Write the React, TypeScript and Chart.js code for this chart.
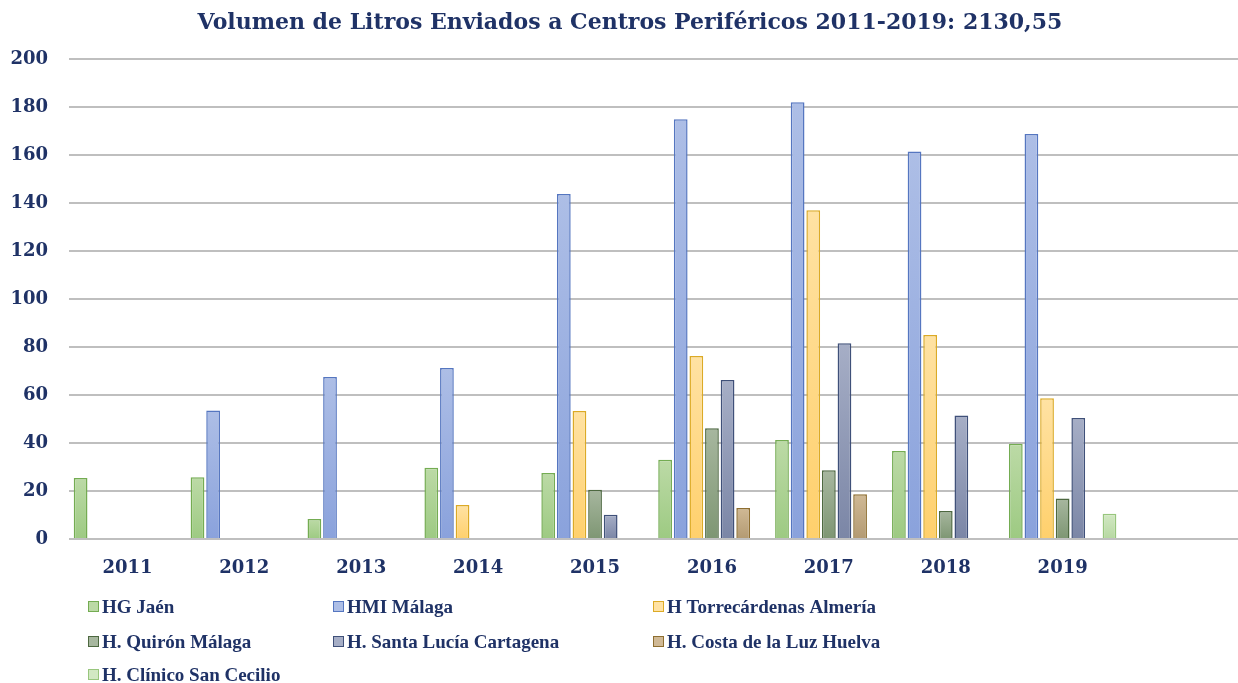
import React, { useEffect, useRef } from "react";
import { Chart, registerables } from "chart.js";

Chart.register(...registerables);

const TITLE = "Volumen de Litros Enviados a Centros Periféricos 2011-2019: 2130,55";
const years = ["2011", "2012", "2013", "2014", "2015", "2016", "2017", "2018", "2019", ""];
const seriesNames = [
  "HG Jaén",
  "HMI Málaga",
  "H Torrecárdenas Almería",
  "H. Quirón Málaga",
  "H. Santa Lucía Cartagena",
  "H. Costa de la Luz Huelva",
  "H. Clínico San Cecilio",
];
const hgJaen = [25.4, 25.7, 8.3, 29.7, 27.5, 33.0, 41.2, 36.7, 39.7, null];
const hmiMalaga = [null, 53.5, 67.5, 71.3, 143.7, 174.9, 182.0, 161.5, 168.7, null];
const torrecardenas = [null, null, null, 14.2, 53.3, 76.2, 137.0, 85.0, 58.6, null];
const quironMalaga = [null, null, null, null, 20.5, 46.1, 28.6, 11.7, 16.9, null];
const santaLucia = [null, null, null, null, 10.1, 66.2, 81.6, 51.5, 50.4, null];
const costaLuz = [null, null, null, null, null, 12.9, 18.6, null, null, null];
const sanCecilio = [null, null, null, null, null, null, null, null, 10.5, null];
const yTicks = [0, 20, 40, 60, 80, 100, 120, 140, 160, 180, 200];

const allSeries = [hgJaen, hmiMalaga, torrecardenas, quironMalaga, santaLucia, costaLuz, sanCecilio];
const palette = [
  { top: "#bcdaa6", bottom: "#9dca82", border: "#74ac52" },
  { top: "#adbee6", bottom: "#8aa2dc", border: "#5576c0" },
  { top: "#ffe2a3", bottom: "#ffd06c", border: "#dcaa26" },
  { top: "#a7b79f", bottom: "#7e9673", border: "#4d6840" },
  { top: "#a6aec6", bottom: "#7b86a6", border: "#3f5079" },
  { top: "#d0b995", bottom: "#b39a72", border: "#8e6e30" },
  { top: "#d2e8c3", bottom: "#b6d8a1", border: "#98c67d" },
];

const NAVY = "#1f3266";
const FONT = "'DejaVu Serif', serif";
const LEGEND_FONT = "'Liberation Serif', serif";

const legendPos = [
  [88, 607], [333, 607], [653, 607],
  [88, 642], [333, 642], [653, 642],
  [88, 675],
];

export default function App() {
  const ref = useRef<HTMLCanvasElement | null>(null);
  useEffect(() => {
    document.body.style.margin = "0";
    const canvas = ref.current;
    if (!canvas) return;
    const overlay = {
      id: "overlay",
      afterDraw(chart: any) {
        const c = chart.ctx;
        c.save();
        c.fillStyle = NAVY;
        c.font = `bold 22px ${FONT}`;
        c.textAlign = "center";
        c.textBaseline = "middle";
        c.fillText(TITLE, 630, 23);
        c.font = `bold 19px ${LEGEND_FONT}`;
        c.textAlign = "left";
        seriesNames.forEach((name, i) => {
          const [x, y] = legendPos[i];
          const p = palette[i];
          c.fillStyle = p.top;
          c.fillRect(x, y - 6, 11, 11);
          c.strokeStyle = p.border;
          c.lineWidth = 1;
          c.strokeRect(x + 0.5, y - 5.5, 10, 10);
          c.fillStyle = NAVY;
          c.fillText(name, x + 14, y + 1);
        });
        c.restore();
      },
    };
    const chart = new Chart(canvas, {
      type: "bar",
      data: {
        labels: years,
        datasets: allSeries.map((d, i) => ({
          label: seriesNames[i],
          data: d,
          borderColor: palette[i].border,
          borderWidth: 1.5,
          backgroundColor: (ctx: any) => {
            const ch = ctx.chart;
            if (!ch.chartArea || ctx.raw == null) return palette[i].bottom;
            const ys = ch.scales.y;
            const t = ys.getPixelForValue(ctx.raw);
            const b = ys.getPixelForValue(0);
            if (!isFinite(t) || !isFinite(b) || b - t < 1) return palette[i].bottom;
            const g = ch.ctx.createLinearGradient(0, t, 0, b);
            g.addColorStop(0, palette[i].top);
            g.addColorStop(1, palette[i].bottom);
            return g;
          },
          categoryPercentage: 0.935,
          barPercentage: 0.88,
        })),
      },
      options: {
        animation: false,
        responsive: false,
        layout: { padding: { top: 59, right: 0, bottom: 0, left: 0 } },
        plugins: {
          legend: { display: false },
          title: { display: false },
          tooltip: { enabled: false },
        },
        scales: {
          x: {
            grid: { display: false, drawTicks: false },
            border: { display: false },
            ticks: {
              color: NAVY,
              font: { family: FONT, weight: "bold", size: 18 },
              padding: 19,
              maxRotation: 0,
              autoSkip: false,
            },
            afterFit: (s: any) => { s.height = 144; },
          },
          y: {
            min: 0,
            max: 200,
            afterBuildTicks: (s: any) => { s.ticks = yTicks.map((v) => ({ value: v })); },
            grid: { color: "#bfbfbf", lineWidth: 2, drawTicks: false },
            border: { display: false },
            ticks: {
              color: NAVY,
              font: { family: FONT, weight: "bold", size: 18 },
              padding: 21,
            },
            afterFit: (s: any) => { s.width = 69; },
          },
        },
      },
      plugins: [overlay],
    });
    return () => chart.destroy();
  }, []);
  return (
    <div style={{ width: 1238, height: 683 }}>
      <canvas ref={ref} width={1238} height={683} style={{ display: "block" }} />
    </div>
  );
}
